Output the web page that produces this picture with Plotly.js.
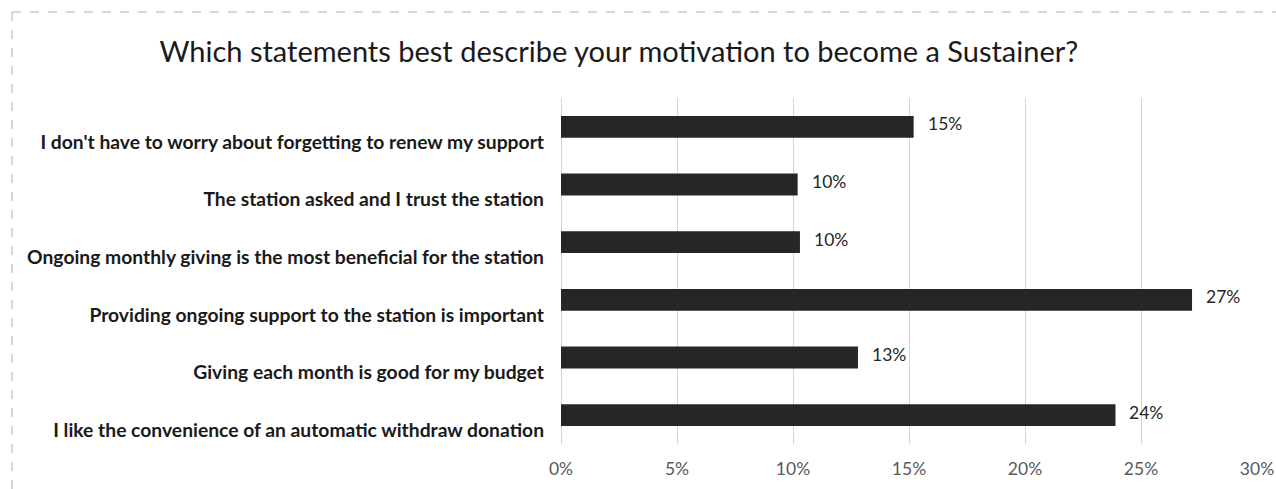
<!DOCTYPE html>
<html>
<head>
<meta charset="utf-8">
<script src="https://cdn.plot.ly/plotly-3.0.1.min.js"></script>
<style>html,body{margin:0;padding:0;background:#fff;}#chart{width:1276px;height:489px;}</style>
</head>
<body>
<div id="chart"></div>
<script>
const categories = [
  "I don't have to worry about forgetting to renew my support",
  "The station asked and I trust the station",
  "Ongoing monthly giving is the most beneficial for the station",
  "Providing ongoing support to the station is important",
  "Giving each month is good for my budget",
  "I like the convenience of an automatic withdraw donation"
];
const shares = [15.2, 10.2, 10.3, 27.2, 12.8, 23.9];
const shareLabels = ["15%", "10%", "10%", "27%", "13%", "24%"];
const xTickValues = [0, 5, 10, 15, 20, 25, 30];
const xTickLabels = ["0%", "5%", "10%", "15%", "20%", "25%", "30%"];

const trace = {
  type: 'bar',
  orientation: 'h',
  y: categories,
  x: shares,
  marker: {color: '#262626'},
  width: 0.38,
  hoverinfo: 'skip'
};

const valueAnnotations = categories.map((c, i) => ({
  x: shares[i], y: c, xref: 'x', yref: 'y',
  text: shareLabels[i], showarrow: false,
  xanchor: 'left', yanchor: 'middle', xshift: 12, yshift: 3,
  font: {family: 'Lato, sans-serif', size: 17.5, color: '#262626'}
}));

const layout = {
  width: 1276, height: 489,
  margin: {l: 561, r: 19, t: 98, b: 45},
  paper_bgcolor: '#ffffff', plot_bgcolor: '#ffffff',
  showlegend: false,
  title: {
    text: 'Which statements best describe your motivation to become a Sustainer?',
    font: {family: 'Lato, sans-serif', size: 29, color: '#1a1a1a'},
    x: 0.485, xanchor: 'center', y: 1 - 52/489, yanchor: 'middle', yref: 'container'
  },
  xaxis: {
    range: [0, 30], tickvals: xTickValues, ticktext: xTickLabels,
    showgrid: true, gridcolor: '#d4d4d4', gridwidth: 1,
    zeroline: true, zerolinecolor: '#d4d4d4',
    showline: false, ticks: '',
    tickfont: {family: 'Lato, sans-serif', size: 17.5, color: '#595959'},
    ticklabelstandoff: 12, fixedrange: true
  },
  yaxis: {
    type: 'category', autorange: 'reversed',
    showgrid: false, zeroline: false, showline: false, ticks: '',
    tickfont: {family: 'Lato, sans-serif', size: 19.3, color: '#1a1a1a', weight: 'bold'},
    ticklabelstandoff: 16, ticklabelshift: -15, fixedrange: true
  },
  annotations: valueAnnotations,
  shapes: [
    {type: 'line', xref: 'paper', yref: 'paper',
     x0: -549/696, x1: 1.03, y0: 1 + 86/346, y1: 1 + 86/346,
     line: {color: '#b0b0b0', width: 1, dash: 'dash'}},
    {type: 'line', xref: 'paper', yref: 'paper',
     x0: -549/696, x1: -549/696, y0: 1 + 86/346, y1: -45/346,
     line: {color: '#b0b0b0', width: 1, dash: 'dash'}}
  ]
};

Plotly.newPlot('chart', [trace], layout, {displayModeBar: false, staticPlot: true});
</script>
</body>
</html>
